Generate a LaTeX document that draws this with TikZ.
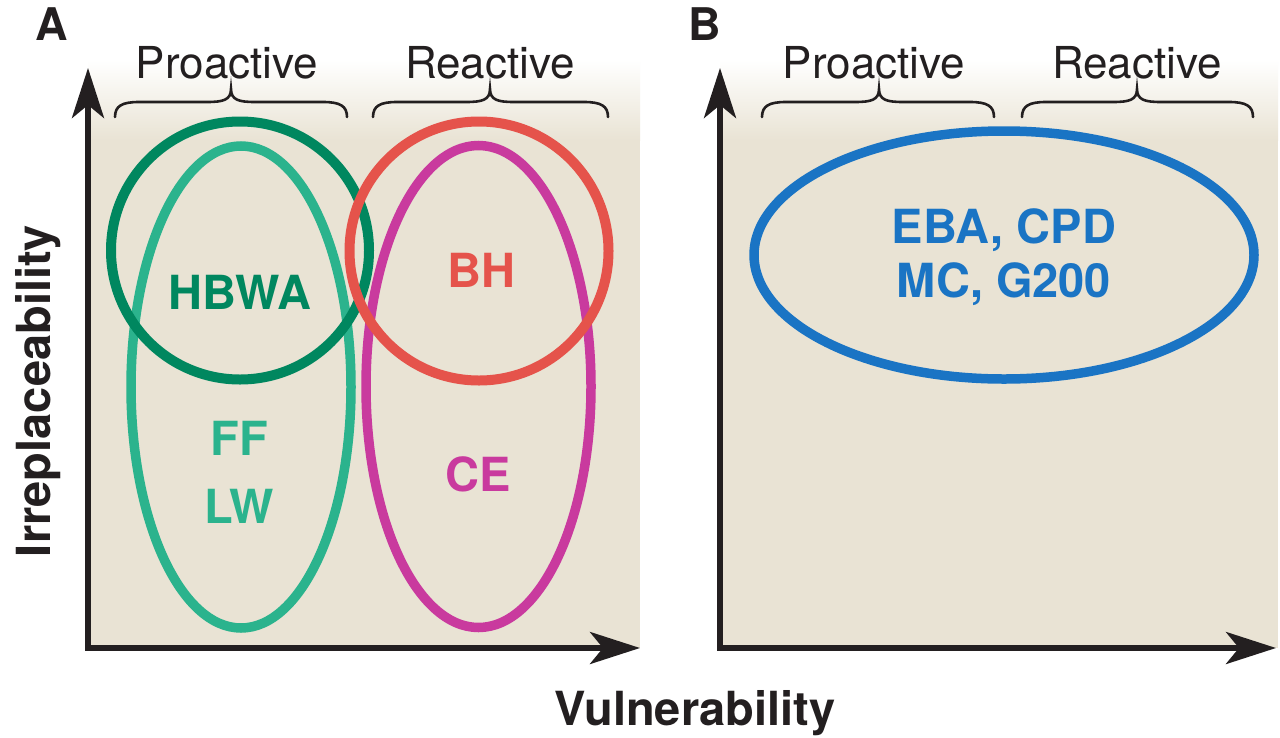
\documentclass[tikz,border=0pt]{standalone}
\usepackage{fontspec}
\setmainfont{TeX Gyre Heros}
\usetikzlibrary{arrows.meta}
\definecolor{beige}{RGB}{233,227,212}
\definecolor{dgreen}{RGB}{0,135,95}
\definecolor{lgreen}{RGB}{43,179,141}
\definecolor{redc}{RGB}{229,83,75}
\definecolor{magc}{RGB}{201,58,158}
\definecolor{bluec}{RGB}{26,116,196}
\definecolor{inkc}{RGB}{35,31,32}
\newcommand\mybrace[3]{%
  \draw[bracestyle] (#1,117) .. controls (#1,106) and (#1+7,102) .. (#1+24,102)
    -- (#2-24,102) .. controls (#2-8,102) and (#2,100) .. (#2,89)
    .. controls (#2,100) and (#2+8,102) .. (#2+24,102)
    -- (#3-24,102) .. controls (#3-7,102) and (#3,106) .. (#3,117);}
\begin{document}
\begin{tikzpicture}[x=1pt,y=-1pt,
  bracestyle/.style={draw=inkc, line width=2.6pt, line cap=round},
  axis/.style={draw=inkc, line width=5.5pt, line join=miter,
    {Stealth[length=50pt, width=32pt, inset=13pt]}-{Stealth[length=50pt, width=32pt, inset=13pt]}},
  ring/.style={line width=9.5pt},
  lbl/.style={font=\bfseries\fontsize{47}{54}\selectfont, anchor=base, inner sep=0pt},
  head/.style={font=\fontsize{44}{50}\selectfont, anchor=base, inner sep=0pt, text=inkc},
  panel/.style={font=\bfseries\fontsize{45}{50}\selectfont, anchor=base west, inner sep=0pt, text=inkc},
  axlbl/.style={font=\bfseries\fontsize{47}{52}\selectfont, anchor=base, inner sep=0pt, text=inkc}
]
\useasboundingbox (0,0) rectangle (1280,737);
\fill[white] (0,0) rectangle (1280,737);
% backgrounds
\shade[top color=white, bottom color=beige] (88,60) rectangle (640,140);
\fill[beige] (88,139.5) rectangle (640,648);
\shade[top color=white, bottom color=beige] (720,60) rectangle (1278,140);
\fill[beige] (720,139.5) rectangle (1278,648);
% panel A shapes
\draw[lgreen, ring] (241,387) ellipse [x radius=110pt, y radius=241pt];
\draw[magc, ring] (478.5,386.5) ellipse [x radius=112.5pt, y radius=241pt];
\draw[dgreen, line width=10pt] (240,250.5) circle [radius=129pt];
\draw[redc, line width=10pt] (479,251) circle [radius=129.5pt];
% panel B shape
\draw[bluec, line width=9.5pt] (1004,255) ellipse [x radius=250pt, y radius=124pt];
% axes
\coordinate (oA) at (88,648);
\coordinate (yA) at (88,68);
\coordinate (xA) at (640,648);
\coordinate (oB) at (720,648);
\coordinate (yB) at (720,68);
\coordinate (xB) at (1276,648);
\draw[axis] (yA) -- (oA) -- (xA);
\draw[axis] (yB) -- (oB) -- (xB);
% braces
\mybrace{115}{231}{347}
\mybrace{373}{490}{608}
\mybrace{762}{879}{994}
\mybrace{1022}{1137}{1253}
% labels
\node[panel] (pa) at (35,40) {A};
\node[panel] (pb) at (688,40) {B};
\node[head] (proA) at (227,78) {Proactive};
\node[head] (reA) at (490,78) {Reactive};
\node[head] (proB) at (874,78) {Proactive};
\node[head] (reB) at (1137,78) {Reactive};
\node[lbl, text=dgreen] (hbwa) at (240,309) {HBWA};
\node[lbl, text=redc] (bh) at (481,287) {BH};
\node[lbl, text=lgreen] (ff) at (239,455) {FF};
\node[lbl, text=lgreen] (lw) at (239,523) {LW};
\node[lbl, text=magc] (ce) at (478,491) {CE};
\node[lbl, text=bluec] (eba) at (1004,243) {EBA, CPD};
\node[lbl, text=bluec] (mc) at (1004,297) {MC, G200};
\node[axlbl, rotate=90] (irr) at (50,391) {Irreplaceability};
\node[axlbl] (vul) at (695,725) {Vulnerability};
\end{tikzpicture}
\end{document}
